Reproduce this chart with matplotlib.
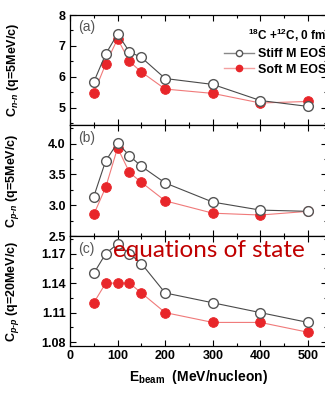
import matplotlib
matplotlib.use("Agg")

import matplotlib.pyplot as plt
from matplotlib.lines import Line2D
from matplotlib.ticker import MultipleLocator, FormatStrFormatter

plt.rcParams["font.family"] = ["Liberation Sans", "DejaVu Sans"]
plt.rcParams["font.weight"] = "bold"
plt.rcParams["mathtext.fontset"] = "custom"
plt.rcParams["mathtext.rm"] = "Liberation Sans:bold"
plt.rcParams["mathtext.it"] = "Liberation Sans:italic:bold"

e_beam = [50, 75, 100, 125, 150, 200, 300, 400, 500]

# C_nn, q = 5 MeV/c
cnn_stiff = [5.84, 6.74, 7.39, 6.81, 6.63, 5.95, 5.76, 5.24, 5.05]
cnn_soft = [5.47, 6.42, 7.23, 6.50, 6.16, 5.61, 5.47, 5.16, 5.21]

# C_pn, q = 5 MeV/c
cpn_stiff = [3.14, 3.72, 4.01, 3.80, 3.63, 3.36, 3.05, 2.92, 2.90]
cpn_soft = [2.85, 3.29, 3.93, 3.53, 3.37, 3.07, 2.87, 2.84, 2.90]

# C_pp, q = 20 MeV/c
cpp_stiff = [1.15, 1.17, 1.18, 1.17, 1.16, 1.13, 1.12, 1.11, 1.10]
cpp_soft = [1.12, 1.14, 1.14, 1.14, 1.13, 1.11, 1.10, 1.10, 1.09]

x_ticks = [0, 100, 200, 300, 400, 500]

panels = [
    ("(a)", cnn_stiff, cnn_soft, (4.45, 8.0), 1.0, 0.5, "%g",
     r"C$_{n\text{-}n}$ (q=5MeV/c)"),
    ("(b)", cpn_stiff, cpn_soft, (2.5, 4.3), 0.5, 0.25, "%.1f",
     r"C$_{p\text{-}n}$ (q=5MeV/c)"),
    ("(c)", cpp_stiff, cpp_soft, (1.076, 1.188), 0.03, 0.015, "%.2f",
     r"C$_{p\text{-}p}$ (q=20MeV/c)"),
]

W, H = 325, 393
fig = plt.figure(figsize=(W / 100, H / 100), dpi=100)

# panel edges in pixels (top, bottom)
edges = [(15, 125), (125, 236), (236, 346)]
left_px, right_px = 70, 327

stiff_color = "#4a4a4a"
soft_color = "#e8262a"
soft_line = "#f07a7a"

axes = []
for (top, bot), (tag, stiff, soft, ylim, major, minor, fmt, ylabel) in zip(edges, panels):
    ax = fig.add_axes([left_px / W, 1 - bot / H, (right_px - left_px) / W, (bot - top) / H])
    ax.plot(e_beam, soft, color=soft_line, lw=0.8, zorder=2)
    ax.plot(e_beam, soft, "o", ms=7, mfc=soft_color, mec=soft_color, mew=0.6, zorder=3)
    ax.plot(e_beam, stiff, color=stiff_color, lw=0.8, zorder=4)
    ax.plot(e_beam, stiff, "o", ms=7, mfc="white", mec="#555555", mew=1.0, zorder=5)
    ax.set_xlim(0, 540)
    ax.set_ylim(*ylim)
    ax.xaxis.set_major_locator(MultipleLocator(100))
    ax.xaxis.set_minor_locator(MultipleLocator(50))
    ax.yaxis.set_major_locator(MultipleLocator(major))
    ax.yaxis.set_minor_locator(MultipleLocator(minor))
    ax.yaxis.set_major_formatter(FormatStrFormatter(fmt))
    ax.tick_params(which="both", direction="in", top=True, right=True,
                   labelsize=9, width=0.8, pad=3)
    ax.tick_params(which="major", length=4)
    ax.tick_params(which="minor", length=2.5)
    for s in ax.spines.values():
        s.set_linewidth(0.9)
    ax.text(0.03, 0.95, tag, transform=ax.transAxes, ha="left", va="top",
            fontsize=10, fontweight="normal", color="#555555")
    ax.set_ylabel(ylabel, fontsize=9, fontweight="bold")
    ax.yaxis.set_label_coords(-0.19, 0.5)
    axes.append(ax)

for ax in axes[:2]:
    ax.tick_params(labelbottom=False)
axes[2].set_xticks(x_ticks)
axes[2].set_xlabel(r"E$_{\rm beam}$  (MeV/nucleon)", fontsize=10, fontweight="bold", labelpad=4)

handles = [
    Line2D([], [], color="#888888", lw=1.0, marker="o", ms=4.5, mfc="white", mec="#555555"),
    Line2D([], [], color="#f4a0a0", lw=1.0, marker="o", ms=4.5, mfc=soft_color, mec=soft_color),
]
leg = axes[0].legend(handles, ["Stiff M EOS", "Soft M EOS"],
                     title=r"$^{18}$C +$^{12}$C, 0 fm", title_fontproperties={"size": 8.5, "weight": "bold"},
                     loc="upper left", bbox_to_anchor=(0.565, 0.97), frameon=False,
                     prop={"size": 9, "weight": "bold"}, handlelength=2.4,
                     handletextpad=0.3, labelspacing=0.3, borderpad=0.2)
leg._legend_box.align = "right"

fig.text(113 / W, 1 - 257 / H, "equations of state", color="#c00000",
         fontsize=17.5, fontweight="normal", family="Lato", ha="left", va="baseline")

fig.savefig("out.png", dpi=100)
